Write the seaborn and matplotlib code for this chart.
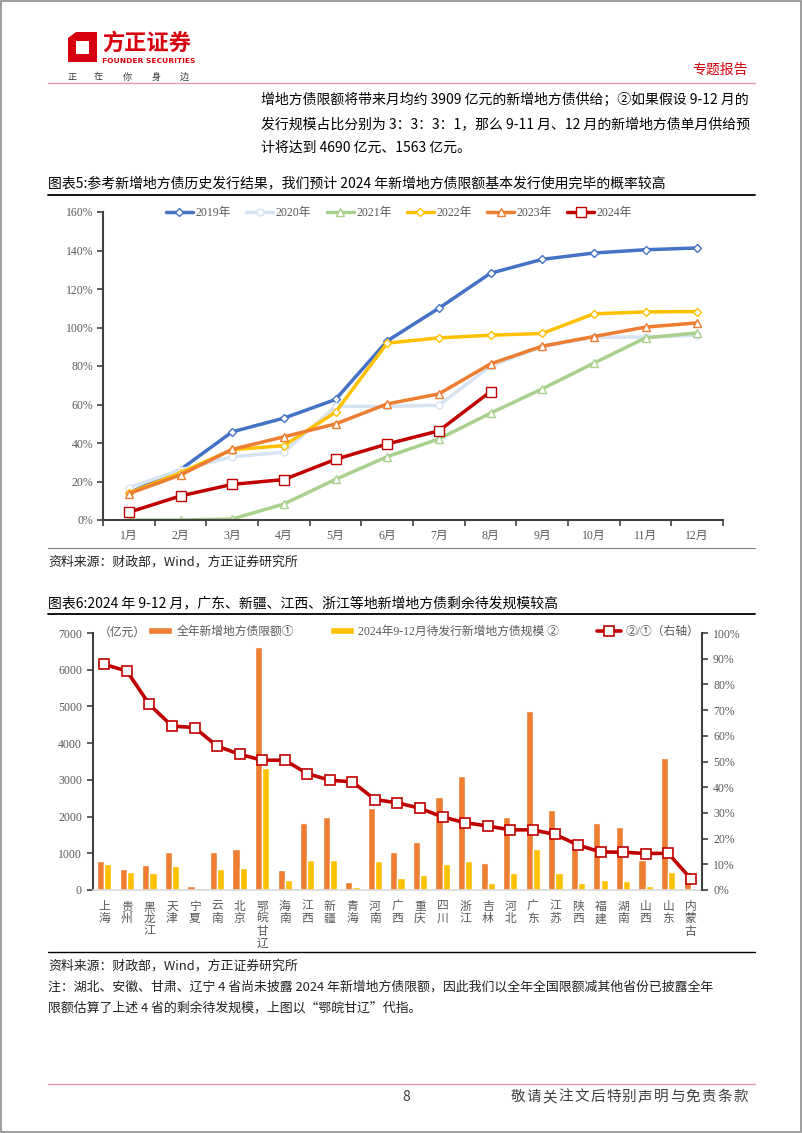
import numpy as np
import pandas as pd
import seaborn as sns
import matplotlib.pyplot as plt
from matplotlib.patches import Polygon, Rectangle, Patch
from matplotlib.lines import Line2D
from matplotlib.ticker import FuncFormatter

# --- data: chart 5 (cumulative issuance / quota) ---
months = ["1月", "2月", "3月", "4月", "5月", "6月", "7月", "8月", "9月", "10月", "11月", "12月"]
years = ["2019年", "2020年", "2021年", "2022年", "2023年", "2024年"]
v2019 = [0.14, 0.262, 0.458, 0.529, 0.626, 0.93, 1.10, 1.282, 1.354, 1.387, 1.404, 1.413]
v2020 = [0.168, 0.26, 0.329, 0.352, 0.59, 0.59, 0.596, 0.80, 0.90, 0.95, 0.95, 0.96]
v2021 = [0.0, 0.0, 0.005, 0.083, 0.211, 0.329, 0.421, 0.555, 0.681, 0.815, 0.946, 0.972]
v2022 = [0.14, 0.245, 0.366, 0.386, 0.56, 0.919, 0.946, 0.96, 0.969, 1.071, 1.081, 1.083]
v2023 = [0.137, 0.234, 0.367, 0.432, 0.499, 0.603, 0.655, 0.811, 0.903, 0.953, 1.002, 1.024]
v2024 = [0.04, 0.125, 0.185, 0.21, 0.315, 0.395, 0.463, 0.667]

# --- data: chart 6 (by province) ---
provinces = ["上海", "贵州", "黑龙江", "天津", "宁夏", "云南", "北京", "鄂皖甘辽", "海南", "江西",
             "新疆", "青海", "河南", "广西", "重庆", "四川", "浙江", "吉林", "河北", "广东",
             "江苏", "陕西", "福建", "湖南", "山西", "山东", "内蒙古"]
quota = [800, 570, 670, 1040, 110, 1030, 1120, 6610, 550, 1820,
         1980, 210, 2230, 1030, 1310, 2540, 3100, 740, 2000, 4870,
         2180, 1130, 1820, 1720, 830, 3600, 500]
remaining = [700, 480, 470, 660, 60, 570, 590, 3330, 270, 810,
             830, 85, 780, 330, 410, 710, 800, 180, 460, 1130,
             460, 195, 265, 250, 115, 500, 20]
ratio = [0.878, 0.852, 0.722, 0.638, 0.632, 0.56, 0.528, 0.505, 0.505, 0.453,
         0.427, 0.421, 0.352, 0.339, 0.318, 0.284, 0.262, 0.249, 0.234, 0.234,
         0.216, 0.175, 0.148, 0.147, 0.142, 0.143, 0.044]
bar_labels = ["全年新增地方债限额①", "2024年9-12月待发行新增地方债规模 ②"]
line_label = "②/①（右轴）"

sns.set_theme(style="white")
plt.rcParams['font.family'] = ['Liberation Serif', 'Noto Sans CJK SC', 'DejaVu Sans']
CJK = ['Noto Sans CJK SC', 'DejaVu Sans']
GREY = '#595959'
RED = '#D7000F'

W, H = 802, 1133
fig = plt.figure(figsize=(W / 100, H / 100), dpi=100)


def fx(x):
    return x / W


def fy(y):
    return 1 - y / H


def hline(x0, x1, y, color, lw):
    fig.add_artist(Line2D([fx(x0), fx(x1)], [fy(y), fy(y)], transform=fig.transFigure, color=color, lw=lw))


# --- page frame and header ---
fig.add_artist(Rectangle((0.001, 0.001), 0.998, 0.998, transform=fig.transFigure,
                         fill=False, edgecolor='#8c8c8c', lw=1.2))
fig.add_artist(Polygon([(fx(68), fy(38)), (fx(76), fy(32)), (fx(97), fy(32)), (fx(97), fy(62)), (fx(68), fy(62))],
                       closed=True, transform=fig.transFigure, facecolor=RED, edgecolor='none'))
fig.add_artist(Polygon([(fx(76), fy(41)), (fx(89), fy(41)), (fx(89), fy(54)), (fx(76), fy(54))],
                       closed=True, transform=fig.transFigure, facecolor='white', edgecolor='none'))
fig.text(fx(102), fy(43), "方正证券", family=CJK, weight='bold', color=RED, fontsize=16, va='center')
fig.text(fx(102), fy(61), "FOUNDER SECURITIES", family=['DejaVu Sans'], weight='bold', color=RED,
         fontsize=5.4, va='center')
for ch, x in zip("正在你身边", [72, 98, 127, 156, 184]):
    fig.text(fx(x), fy(77), ch, family=CJK, color='#333333', fontsize=6.5, ha='center', va='center')
fig.text(fx(748), fy(70), "专题报告", family=CJK, color=RED, fontsize=10, ha='right', va='center')
hline(48, 755, 83, '#EE9AAE', 1.0)

para = ["增地方债限额将带来月均约 3909 亿元的新增地方债供给；②如果假设 9-12 月的",
        "发行规模占比分别为 3：3：3：1，那么 9-11 月、12 月的新增地方债单月供给预",
        "计将达到 4690 亿元、1563 亿元。"]
for line, y in zip(para, [100, 124, 148]):
    fig.text(fx(261), fy(y), line, family=CJK, color='black', fontsize=10, va='center')

fig.text(fx(48), fy(183), "图表5:参考新增地方债历史发行结果，我们预计 2024 年新增地方债限额基本发行使用完毕的概率较高",
         family=CJK, color='black', fontsize=10, va='center')
hline(48, 755, 195, 'black', 1.3)

# --- chart 5 ---
ax1 = fig.add_axes([fx(103), fy(520), (723 - 103) / W, (520 - 212) / H])
series = [v2019, v2020, v2021, v2022, v2023, v2024]
colors = ['#4472C4', '#D5E3F3', '#A9D18E', '#FFC000', '#ED7D31', '#C00000']
markers = ['D', 'o', '^', 'D', '^', 's']
msizes = [4.5, 5, 5.5, 4.5, 5.5, 6.5]
for name, vals, c, mk, ms in zip(years, series, colors, markers, msizes):
    sns.lineplot(x=np.arange(len(vals)), y=vals, ax=ax1, color=c, lw=2.5, marker=mk, markersize=ms,
                 markerfacecolor='white', markeredgecolor=c, markeredgewidth=1.0, label=name, legend=False)
ax1.set_xlim(-0.5, 11.5)
ax1.set_ylim(0, 1.6)
ax1.set_yticks(np.arange(0, 1.61, 0.2))
ax1.yaxis.set_major_formatter(FuncFormatter(lambda v, p: f"{v * 100:.0f}%"))
ax1.set_xticks(np.arange(12))
ax1.set_xticklabels(months)
ax1.set_xticks(np.arange(-0.5, 12, 1), minor=True)
ax1.tick_params(axis='x', which='major', length=0, pad=7, labelsize=8.5, labelcolor=GREY)
ax1.tick_params(axis='x', which='minor', length=4, width=1.2, color='#404040', direction='out', bottom=True)
ax1.tick_params(axis='y', length=4, width=1.2, color='#404040', direction='out', left=True, pad=3,
                labelsize=8.5, labelcolor=GREY)
ax1.set_xlabel("")
ax1.set_ylabel("")
for s in ['top', 'right']:
    ax1.spines[s].set_visible(False)
for s in ['left', 'bottom']:
    ax1.spines[s].set_color('#404040')
    ax1.spines[s].set_linewidth(1.5)
h1, l1 = ax1.get_legend_handles_labels()
fig.legend(h1, l1, ncol=6, loc='center', bbox_to_anchor=(fx(399), fy(213)), frameon=False,
           fontsize=8.5, handlelength=2.3, handletextpad=0.2, columnspacing=1.3, labelcolor=GREY)

hline(48, 755, 548, '#808080', 0.8)
fig.text(fx(48), fy(562), "资料来源：财政部，Wind，方正证券研究所", family=CJK, color='#222222', fontsize=9.3,
         va='center')

# --- chart 6 ---
fig.text(fx(48), fy(603), "图表6:2024 年 9-12 月，广东、新疆、江西、浙江等地新增地方债剩余待发规模较高",
         family=CJK, color='black', fontsize=10, va='center')
hline(48, 755, 614, 'black', 1.3)

ax2 = fig.add_axes([fx(93), fy(890), (702 - 93) / W, (890 - 633) / H])
bars = pd.DataFrame({
    "province": provinces * 2,
    "series": [bar_labels[0]] * len(provinces) + [bar_labels[1]] * len(provinces),
    "value": quota + remaining,
})
sns.barplot(data=bars, x="province", y="value", hue="series", ax=ax2, palette=['#ED7D31', '#FFC000'],
            width=0.64, saturation=1, legend=False)
ax2.set_xlim(-0.5, len(provinces) - 0.5)
ax2.set_ylim(0, 7000)
ax2.set_yticks(np.arange(0, 7001, 1000))
ax2.set_xticks(np.arange(len(provinces)))
ax2.set_xticklabels(["\n".join(p) for p in provinces], family=CJK, linespacing=0.95, va='top')
ax2.tick_params(axis='x', length=0, pad=7, labelsize=8.5, labelcolor=GREY)
ax2.tick_params(axis='y', length=4, width=1.2, color='#404040', direction='out', left=True, pad=4,
                labelsize=8.5, labelcolor=GREY)
ax2.set_xlabel("")
ax2.set_ylabel("")
ax2.spines['top'].set_visible(False)
ax2.spines['right'].set_visible(False)
ax2.spines['left'].set_color('#404040')
ax2.spines['left'].set_linewidth(1.5)
ax2.spines['bottom'].set_color('#D9D9D9')
ax2.spines['bottom'].set_linewidth(1.2)

ax3 = ax2.twinx()
sns.lineplot(x=np.arange(len(provinces)), y=ratio, ax=ax3, color='#C00000', lw=2.6, marker='s', markersize=7,
             markerfacecolor='white', markeredgecolor='#C00000', markeredgewidth=1.2)
ax3.set_ylim(0, 1.0)
ax3.set_yticks(np.arange(0, 1.01, 0.1))
ax3.yaxis.set_major_formatter(FuncFormatter(lambda v, p: f"{v * 100:.0f}%"))
ax3.tick_params(axis='y', length=4, width=1.2, color='#404040', direction='out', right=True, pad=4,
                labelsize=8.5, labelcolor=GREY)
ax3.set_ylabel("")
for s in ['top', 'left', 'bottom']:
    ax3.spines[s].set_visible(False)
ax3.spines['right'].set_color('#404040')
ax3.spines['right'].set_linewidth(1.5)
ax3.set_xlim(-0.5, len(provinces) - 0.5)

fig.text(fx(99), fy(632), "（亿元）", family=CJK, color=GREY, fontsize=8.5, va='center')
leg_items = [
    (Patch(facecolor='#ED7D31'), bar_labels[0], 148),
    (Patch(facecolor='#FFC000'), bar_labels[1], 330),
    (Line2D([], [], color='#C00000', lw=2.6, marker='s', markersize=7, markerfacecolor='white',
            markeredgecolor='#C00000', markeredgewidth=1.2), line_label, 597),
]
for handle, text, x in leg_items:
    fig.legend([handle], [text], loc='center left', bbox_to_anchor=(fx(x), fy(632)), frameon=False,
               fontsize=8.5, handlelength=2.0, handleheight=0.5, handletextpad=0.4, borderpad=0,
               borderaxespad=0, labelcolor=GREY)

hline(48, 755, 952, 'black', 1.0)
fig.text(fx(48), fy(966), "资料来源：财政部，Wind，方正证券研究所", family=CJK, color='#222222', fontsize=9.3,
         va='center')
fig.text(fx(48), fy(987), "注：湖北、安徽、甘肃、辽宁 4 省尚未披露 2024 年新增地方债限额，因此我们以全年全国限额减其他省份已披露全年",
         family=CJK, color='#222222', fontsize=9.3, va='center')
fig.text(fx(48), fy(1008), "限额估算了上述 4 省的剩余待发规模，上图以“鄂皖甘辽”代指。",
         family=CJK, color='#222222', fontsize=9.3, va='center')

# --- footer ---
hline(48, 755, 1084, '#EE9AAE', 1.0)
fig.text(fx(406), fy(1097), "8", family=CJK, color='#404040', fontsize=10, ha='center', va='center')
for i, ch in enumerate("敬请关注文后特别声明与免责条款"):
    fig.text(fx(518 + i * 15.9), fy(1097), ch, family=CJK, color='#404040', fontsize=10.5,
             ha='center', va='center')

fig.savefig("out.png", dpi=100)
